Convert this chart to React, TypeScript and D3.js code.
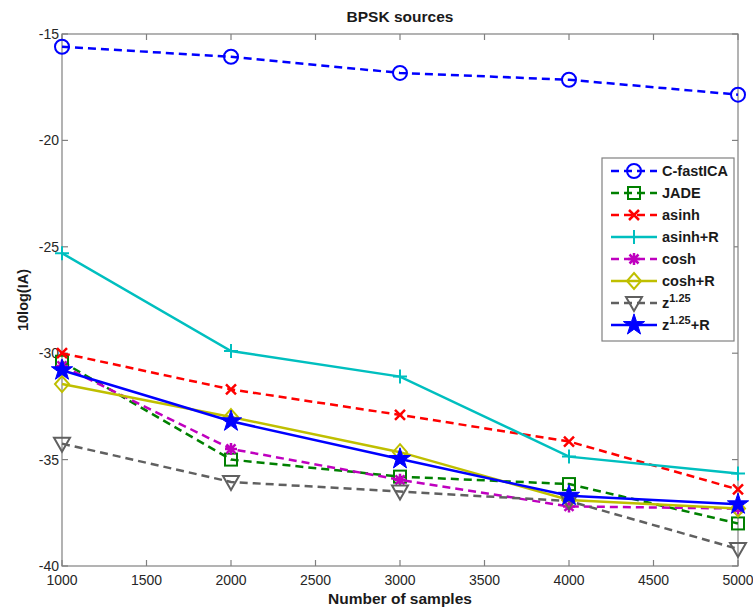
import React, { useEffect, useRef } from 'react';
import * as d3 from 'd3';

const samples = [1000, 2000, 3000, 4000, 5000];
const xTicks = [1000, 1500, 2000, 2500, 3000, 3500, 4000, 4500, 5000];
const yTicks = [-15, -20, -25, -30, -35, -40];

const fastICA = [-15.6, -16.07, -16.83, -17.15, -17.85];
const jade = [-30.4, -35.0, -35.8, -36.15, -38.0];
const asinh = [-30.0, -31.7, -32.9, -34.15, -36.4];
const asinhR = [-25.3, -29.9, -31.1, -34.86, -35.65];
const cosh = [-30.6, -34.5, -35.95, -37.2, -37.3];
const coshR = [-31.45, -33.0, -34.65, -36.9, -37.3];
const zPow = [-34.25, -36.05, -36.5, -36.95, -39.2];
const zPowR = [-30.8, -33.2, -34.97, -36.7, -37.1];

const series = [
  { name: 'C-fastICA', values: fastICA, color: '#0000ff', dashed: true, marker: 'circle' },
  { name: 'JADE', values: jade, color: '#008000', dashed: true, marker: 'square' },
  { name: 'asinh', values: asinh, color: '#ff0000', dashed: true, marker: 'x' },
  { name: 'asinh+R', values: asinhR, color: '#00bfbf', dashed: false, marker: 'plus' },
  { name: 'cosh', values: cosh, color: '#bf00bf', dashed: true, marker: 'asterisk' },
  { name: 'cosh+R', values: coshR, color: '#bfbf00', dashed: false, marker: 'diamond' },
  { name: 'z|1.25', values: zPow, color: '#606060', dashed: true, marker: 'triangle' },
  { name: 'z|1.25|+R', values: zPowR, color: '#0000ff', dashed: false, marker: 'star' },
];

// draws a marker centred at (0,0) into group g
function drawMarker(g: any, type: string, color: string) {
  const sw = 2;
  if (type === 'circle') {
    g.append('circle').attr('r', 7).attr('fill', 'none').attr('stroke', color).attr('stroke-width', sw);
  } else if (type === 'square') {
    g.append('rect').attr('x', -6).attr('y', -6).attr('width', 12).attr('height', 12)
      .attr('fill', 'none').attr('stroke', color).attr('stroke-width', sw);
  } else if (type === 'x') {
    g.append('path').attr('d', 'M-5,-5L5,5M-5,5L5,-5').attr('stroke', color).attr('stroke-width', 2.5);
  } else if (type === 'plus') {
    g.append('path').attr('d', 'M-7,0L7,0M0,-7L0,7').attr('stroke', color).attr('stroke-width', sw);
  } else if (type === 'asterisk') {
    g.append('path').attr('d', 'M-6,0L6,0M0,-6L0,6M-4.5,-4.5L4.5,4.5M-4.5,4.5L4.5,-4.5')
      .attr('stroke', color).attr('stroke-width', 2.5);
  } else if (type === 'diamond') {
    g.append('path').attr('d', 'M0,-8L7,0L0,8L-7,0Z').attr('fill', 'none')
      .attr('stroke', color).attr('stroke-width', sw);
  } else if (type === 'triangle') {
    g.append('path').attr('d', 'M-8,-6L8,-6L0,8Z').attr('fill', 'none')
      .attr('stroke', color).attr('stroke-width', sw);
  } else if (type === 'star') {
    g.append('path').attr('d', d3.symbol(d3.symbolStar, 140)()).attr('fill', color)
      .attr('stroke', color).attr('stroke-width', 1);
  }
}

function addLabel(sel: any, name: string) {
  const parts = name.split('|');
  sel.append('tspan').text(parts[0]);
  if (parts.length > 1) {
    sel.append('tspan').attr('dy', -6).attr('font-size', 11).text(parts[1]);
    if (parts[2]) sel.append('tspan').attr('dy', 6).text(parts[2]);
  }
}

const App = () => {
  const ref = useRef<SVGSVGElement>(null);

  useEffect(() => {
    const width = 753;
    const height = 610;
    const m = { left: 62, right: 738, top: 34, bottom: 566 };
    const font = 'Arial, "Liberation Sans", sans-serif';

    const svg = d3.select(ref.current);
    svg.selectAll('*').remove();
    svg.attr('width', width).attr('height', height).style('font-family', font);

    svg.append('rect').attr('width', width).attr('height', height).attr('fill', '#fff');

    const x = d3.scaleLinear().domain([1000, 5000]).range([m.left, m.right]);
    const y = d3.scaleLinear().domain([-40, -15]).range([m.bottom, m.top]);

    const axisColor = '#808080';
    const tickLen = 6;

    // box
    svg.append('rect').attr('x', m.left).attr('y', m.top)
      .attr('width', m.right - m.left).attr('height', m.bottom - m.top)
      .attr('fill', 'none').attr('stroke', axisColor).attr('stroke-width', 1.2);

    // ticks (inside, both sides)
    const tk = svg.append('g').attr('stroke', axisColor).attr('stroke-width', 1.2);
    xTicks.forEach(t => {
      tk.append('line').attr('x1', x(t)).attr('x2', x(t)).attr('y1', m.bottom).attr('y2', m.bottom - tickLen);
      tk.append('line').attr('x1', x(t)).attr('x2', x(t)).attr('y1', m.top).attr('y2', m.top + tickLen);
    });
    yTicks.forEach(t => {
      tk.append('line').attr('x1', m.left).attr('x2', m.left + tickLen).attr('y1', y(t)).attr('y2', y(t));
      tk.append('line').attr('x1', m.right).attr('x2', m.right - tickLen).attr('y1', y(t)).attr('y2', y(t));
    });

    svg.append('g').selectAll('text').data(xTicks).join('text')
      .attr('x', d => x(d)).attr('y', m.bottom + 19)
      .attr('text-anchor', 'middle').attr('font-size', 14).attr('fill', '#262626')
      .text(d => d);

    svg.append('g').selectAll('text').data(yTicks).join('text')
      .attr('x', m.left - 3).attr('y', d => y(d) + 5)
      .attr('text-anchor', 'end').attr('font-size', 14).attr('fill', '#262626')
      .text(d => d);

    // titles
    svg.append('text').attr('x', (m.left + m.right) / 2).attr('y', 22)
      .attr('text-anchor', 'middle').attr('font-size', 15.5).attr('font-weight', 'bold')
      .attr('fill', '#1a1a1a').text('BPSK sources');
    svg.append('text').attr('x', (m.left + m.right) / 2).attr('y', 604)
      .attr('text-anchor', 'middle').attr('font-size', 15.5).attr('font-weight', 'bold')
      .attr('fill', '#1a1a1a').text('Number of samples');
    svg.append('text').attr('transform', `translate(28,${(m.top + m.bottom) / 2}) rotate(-90)`)
      .attr('text-anchor', 'middle').attr('font-size', 14.5).attr('font-weight', 'bold')
      .attr('fill', '#1a1a1a').text('10log(IA)');

    const line = d3.line<number>().x((d, i) => x(samples[i])).y(d => y(d));

    series.forEach(s => {
      const g = svg.append('g');
      g.append('path').attr('d', line(s.values)).attr('fill', 'none')
        .attr('stroke', s.color).attr('stroke-width', 2.5)
        .attr('stroke-dasharray', s.dashed ? '8,5' : null);
      s.values.forEach((v, i) => {
        const mg = g.append('g').attr('transform', `translate(${x(samples[i])},${y(v)})`);
        drawMarker(mg, s.marker, s.color);
      });
    });

    // legend
    const lg = svg.append('g');
    lg.append('rect').attr('x', 602).attr('y', 158).attr('width', 132).attr('height', 183)
      .attr('fill', '#fff').attr('stroke', axisColor).attr('stroke-width', 1.2);
    series.forEach((s, i) => {
      const yy = 171 + i * 22;
      lg.append('line').attr('x1', 611).attr('x2', 657).attr('y1', yy).attr('y2', yy)
        .attr('stroke', s.color).attr('stroke-width', 2.5)
        .attr('stroke-dasharray', s.dashed ? '8,5' : null);
      drawMarker(lg.append('g').attr('transform', `translate(634,${yy})`), s.marker, s.color);
      const t = lg.append('text').attr('x', 662).attr('y', yy + 5)
        .attr('font-size', 14.5).attr('font-weight', 'bold').attr('fill', '#1a1a1a');
      addLabel(t, s.name);
    });
  }, []);

  return <svg ref={ref} style={{ position: 'absolute', left: 0, top: 0, display: 'block' }} />;
};

export default App;
